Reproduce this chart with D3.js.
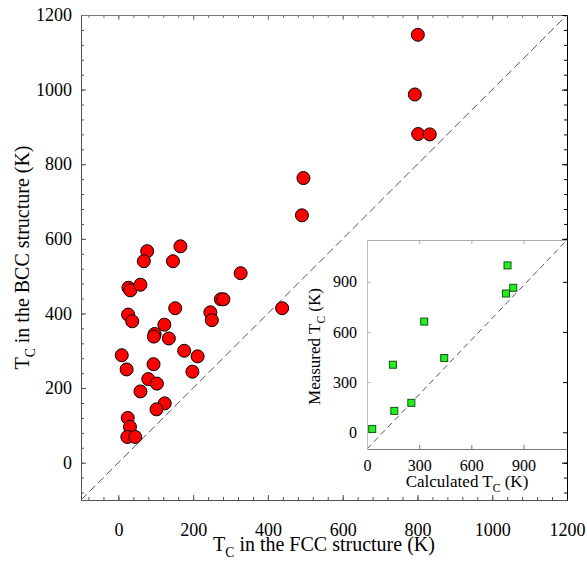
<!DOCTYPE html>
<html>
<head>
<meta charset="utf-8">
<script src="https://cdn.jsdelivr.net/npm/d3@7"></script>
<style>
  body { margin: 0; background: #fff; }
  text { font-family: "Liberation Serif", "Times New Roman", serif; }
</style>
</head>
<body>
<div id="chart-area"></div>
<script>
// Tc in FCC (x) vs Tc in BCC (y), main panel
var fccTc = [801, 793, 802, 833, 495, 491, 327, 77, 68, 146, 166, 27, 32, 59, 26, 37, 152, 246, 250, 274, 281,
             438, 123, 97, 95, 135, 9, 22, 94, 176, 212, 198, 80, 103, 59, 124, 102, 25, 31, 24, 45];
var bccTc = [1147, 987, 881, 880, 763, 663, 508, 567, 540, 540, 580, 469, 462, 477, 397, 379, 414, 403, 382, 438, 438,
             414, 370, 345, 338, 333, 288, 250, 264, 300, 285, 244, 224, 212, 191, 159, 143, 120, 96, 69, 69];

// inset: calculated vs measured Tc
var calcTc = [30, 149, 157, 255, 329, 444, 799, 841, 808];
var measTc = [20, 404, 128, 176, 662, 444, 830, 864, 998];

var mainTicks = [0, 200, 400, 600, 800, 1000, 1200];
var insetTicks = [0, 300, 600, 900];

var svg = d3.select("#chart-area")
    .append("svg")
        .attr("width", 587)
        .attr("height", 561);

// main panel frame (note: "top" is a reserved window prop, so use mTop)
var mLeft = 81, mRight = 567, mTop = 15, mBottom = 500;

var x = d3.scaleLinear().domain([-100, 1200]).range([mLeft, mRight]);
var y = d3.scaleLinear().domain([-100, 1200]).range([mBottom, mTop]);

var minorTicks = d3.range(-80, 1200, 40);

// dashed y = x line
svg.append("line")
    .attr("x1", x(-100)).attr("y1", y(-100))
    .attr("x2", x(1200)).attr("y2", y(1200))
    .attr("stroke", "#555")
    .attr("stroke-width", 1)
    .attr("stroke-dasharray", "8,4");

function styleAxis(g, col) {
    g.select(".domain").attr("stroke", col);
    g.selectAll(".tick line").attr("stroke", col);
    g.selectAll("text").attr("font-size", "18px").attr("fill", "#000");
}

// minor ticks on all four sides
svg.append("g").attr("transform", "translate(0," + mBottom + ")")
    .call(d3.axisBottom(x).tickValues(minorTicks).tickSize(-3).tickFormat(""))
    .call(styleAxis, "#555");
svg.append("g").attr("transform", "translate(0," + mTop + ")")
    .call(d3.axisTop(x).tickValues(minorTicks).tickSize(-3).tickFormat(""))
    .call(styleAxis, "#777");
svg.append("g").attr("transform", "translate(" + mLeft + ",0)")
    .call(d3.axisLeft(y).tickValues(minorTicks).tickSize(-3).tickFormat(""))
    .call(styleAxis, "#555");
svg.append("g").attr("transform", "translate(" + mRight + ",0)")
    .call(d3.axisRight(y).tickValues(minorTicks).tickSize(-3).tickFormat(""))
    .call(styleAxis, "#000");

// major ticks with labels
svg.append("g").attr("transform", "translate(0," + mBottom + ")")
    .call(d3.axisBottom(x).tickValues(mainTicks).tickSize(-5).tickPadding(23).tickSizeOuter(0).tickFormat(d3.format("d")))
    .call(styleAxis, "#555");
svg.append("g").attr("transform", "translate(" + mLeft + ",0)")
    .call(d3.axisLeft(y).tickValues(mainTicks).tickSize(-5).tickPadding(9).tickSizeOuter(0).tickFormat(d3.format("d")))
    .call(styleAxis, "#555");
svg.append("g").attr("transform", "translate(0," + mTop + ")")
    .call(d3.axisTop(x).tickValues(mainTicks).tickSize(-5).tickSizeOuter(0).tickFormat(""))
    .call(styleAxis, "#777");
svg.append("g").attr("transform", "translate(" + mRight + ",0)")
    .call(d3.axisRight(y).tickValues(mainTicks).tickSize(-5).tickSizeOuter(0).tickFormat(""))
    .call(styleAxis, "#000");

// axis titles with subscript C
function tcTitle(t, before, rest, size) {
    t.attr("font-size", size + "px").attr("text-anchor", "middle");
    t.append("tspan").text(before + "T");
    t.append("tspan").text("C").attr("font-size", (size * 0.68) + "px").attr("dy", size * 0.3);
    t.append("tspan").text(rest).attr("dy", -size * 0.3);
}

svg.append("text")
    .attr("x", (mLeft + mRight) / 2)
    .attr("y", 551)
    .call(tcTitle, "", " in the FCC structure (K)", 20);

svg.append("text")
    .attr("transform", "translate(29," + ((mTop + mBottom) / 2) + ") rotate(-90)")
    .call(tcTitle, "", " in the BCC structure (K)", 20);

// main points
svg.selectAll("circle.fcc")
    .data(fccTc)
    .enter().append("circle")
        .attr("class", "fcc")
        .attr("cx", function(d) { return x(d); })
        .attr("cy", function(d, i) { return y(bccTc[i]); })
        .attr("r", 6.5)
        .attr("fill", "#ff0000")
        .attr("stroke", "#000")
        .attr("stroke-width", 1);

// ---------- inset ----------
var iLeft = 367, iRight = 567, iTop = 240, iBottom = 449;
var xi = d3.scaleLinear().domain([0, 1150]).range([iLeft, iRight]);
var yi = d3.scaleLinear().domain([-100, 1150]).range([iBottom, iTop]);

svg.append("rect")
    .attr("x", iLeft).attr("y", iTop)
    .attr("width", iRight - iLeft).attr("height", iBottom - iTop)
    .attr("fill", "#fff");

svg.append("line")
    .attr("x1", xi(0)).attr("y1", yi(-100))
    .attr("x2", xi(1150)).attr("y2", yi(1150))
    .attr("stroke", "#555")
    .attr("stroke-width", 1)
    .attr("stroke-dasharray", "6,4");

function styleInset(g, col) {
    g.select(".domain").attr("stroke", col);
    g.selectAll(".tick line").attr("stroke", col);
    g.selectAll("text").attr("font-size", "16px").attr("fill", "#000");
}

svg.append("g").attr("transform", "translate(0," + iBottom + ")")
    .call(d3.axisBottom(xi).tickValues(insetTicks).tickSize(-4).tickPadding(11).tickSizeOuter(0))
    .call(styleInset, "#777");
svg.append("g").attr("transform", "translate(0," + iTop + ")")
    .call(d3.axisTop(xi).tickValues(insetTicks).tickSize(-4).tickSizeOuter(0).tickFormat(""))
    .call(styleInset, "#aaa");
svg.append("g").attr("transform", "translate(" + iLeft + ",0)")
    .call(d3.axisLeft(yi).tickValues(insetTicks).tickSize(-4).tickPadding(10).tickSizeOuter(0))
    .call(styleInset, "#bbb");
svg.append("g").attr("transform", "translate(" + iRight + ",0)")
    .call(d3.axisRight(yi).tickValues(insetTicks).tickSize(-4).tickSizeOuter(0).tickFormat(""))
    .call(styleInset, "#000");

svg.append("text")
    .attr("x", (iLeft + iRight) / 2)
    .attr("y", 487)
    .call(tcTitle, "Calculated ", " (K)", 17);

svg.append("text")
    .attr("transform", "translate(320," + ((iTop + iBottom) / 2 + 2) + ") rotate(-90)")
    .call(tcTitle, "Measured ", " (K)", 17);

svg.selectAll("rect.calc")
    .data(calcTc)
    .enter().append("rect")
        .attr("class", "calc")
        .attr("x", function(d) { return xi(d) - 3.5; })
        .attr("y", function(d, i) { return yi(measTc[i]) - 3.5; })
        .attr("width", 7)
        .attr("height", 7)
        .attr("fill", "#22ee22")
        .attr("stroke", "#115511")
        .attr("stroke-width", 1);
</script>
</body>
</html>
